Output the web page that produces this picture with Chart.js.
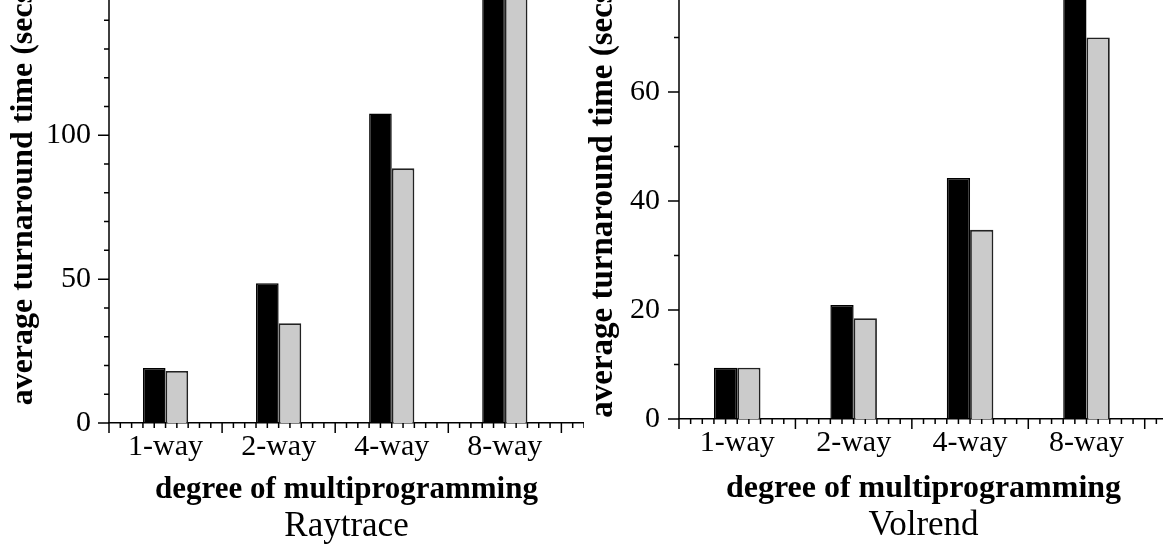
<!DOCTYPE html>
<html>
<head>
<meta charset="utf-8">
<script src="https://cdn.jsdelivr.net/npm/chart.js@4.4.0/dist/chart.umd.min.js"></script>
<style>
    html, body { margin: 0; padding: 0; background: #fff; }
    body { width: 1163px; height: 545px; overflow: hidden; position: relative; }
    canvas { position: absolute; }
    #raytraceChart { left: 0; top: -80px; }
    #volrendChart { left: 584px; top: -80px; }
</style>
</head>
<body>
<canvas id="raytraceChart" width="584" height="625"></canvas>
<canvas id="volrendChart" width="584" height="625"></canvas>
<script>
// degree of multiprogramming
const categories = ['1-way', '2-way', '4-way', '8-way'];

// Raytrace, average turnaround time (secs); 8-way bars run off the top of the figure
const raytraceBlack = [19.1, 48.6, 107.6, 180];
const raytraceGray = [18.1, 34.7, 88.5, 170];

// Volrend, average turnaround time (secs)
const volrendBlack = [9.4, 20.9, 44.2, 88];
const volrendGray = [9.4, 18.5, 34.7, 70];

const serif = "'Liberation Serif', 'Times New Roman', serif";

// y axis line up to the top edge, plus outward major/minor tick marks from the scales
const tickMarks = {
    id: 'tickMarks',
    afterDraw(chart, args, opts) {
        const { ctx, chartArea, scales: { x, y } } = chart;
        ctx.save();
        ctx.strokeStyle = '#000';
        ctx.lineWidth = 1.5;
        ctx.beginPath();
        ctx.moveTo(chartArea.left, chartArea.bottom);
        ctx.lineTo(chartArea.left, 0);
        const nx = Math.round((x.max - x.min) / opts.xStep);
        for (let i = 0; i <= nx; i++) {
            const px = x.getPixelForValue(x.min + i * opts.xStep);
            const len = i % opts.xMajorEvery === 0 ? 10 : 5;
            ctx.moveTo(px, chartArea.bottom);
            ctx.lineTo(px, chartArea.bottom + len);
        }
        const ny = Math.floor((y.max - y.min) / opts.yStep);
        for (let i = 0; i <= ny; i++) {
            const py = y.getPixelForValue(y.min + i * opts.yStep);
            const len = i % opts.yMajorEvery === 0 ? 11 : 5;
            ctx.moveTo(chartArea.left, py);
            ctx.lineTo(chartArea.left - len, py);
        }
        ctx.stroke();
        ctx.restore();
    }
};

function makeChart(id, caption, black, gray, cfg) {
    const ctx = document.getElementById(id).getContext('2d');
    const toPoints = values => values.map((v, i) => ({ x: i + 0.5, y: v }));
    return new Chart(ctx, {
        type: 'bar',
        data: {
            datasets: [{
                label: 'black',
                data: toPoints(black),
                backgroundColor: '#000000',
                borderColor: '#000000',
                borderWidth: 1.5,
                clip: false
            }, {
                label: 'gray',
                data: toPoints(gray),
                backgroundColor: '#cbcbcb',
                borderColor: '#222222',
                borderWidth: 1.8,
                clip: false
            }]
        },
        options: {
            responsive: false,
            animation: false,
            devicePixelRatio: 1,
            categoryPercentage: 0.4,
            barPercentage: 1.0,
            layout: { padding: { top: cfg.padTop, bottom: cfg.padBottom, left: 0, right: 0 } },
            plugins: {
                legend: { display: false },
                tooltip: { enabled: false },
                title: {
                    display: true,
                    position: 'bottom',
                    fullSize: false,
                    text: caption,
                    color: '#000',
                    padding: 0,
                    font: { family: serif, size: 35, weight: 'normal', lineHeight: 1 }
                },
                tickMarks: { xStep: 0.1, xMajorEvery: 10, yStep: cfg.yMinor, yMajorEvery: cfg.yMajor / cfg.yMinor }
            },
            scales: {
                x: {
                    type: 'linear',
                    min: 0,
                    max: 4.2,
                    offset: false,
                    grid: { display: false, drawTicks: false, offset: false },
                    border: { display: true, color: '#000', width: 1.5 },
                    afterBuildTicks: axis => { axis.ticks = categories.map((c, i) => ({ value: i + 0.5 })); },
                    afterFit: axis => { axis.height = cfg.xAxisHeight; },
                    ticks: {
                        autoSkip: false,
                        maxRotation: 0,
                        padding: 6,
                        color: '#000',
                        font: { family: serif, size: 30 },
                        callback: value => categories[Math.floor(value)]
                    },
                    title: {
                        display: true,
                        text: 'degree of multiprogramming',
                        color: '#000',
                        padding: { top: 0, bottom: 0 },
                        font: { family: serif, size: cfg.xTitleSize, weight: 'bold' }
                    }
                },
                y: {
                    min: 0,
                    max: cfg.yMax,
                    grid: { display: false, drawTicks: false },
                    border: { display: false },
                    afterFit: axis => { axis.width = cfg.axisWidth; },
                    ticks: {
                        stepSize: cfg.yMajor,
                        includeBounds: false,
                        padding: cfg.labelPad,
                        color: '#000',
                        font: { family: serif, size: 30 }
                    },
                    title: {
                        display: true,
                        text: 'average turnaround time (secs)',
                        color: '#000',
                        padding: { top: cfg.titlePad, bottom: 0 },
                        font: { family: serif, size: cfg.yTitleSize, weight: 'bold' }
                    }
                }
            }
        },
        plugins: [tickMarks]
    });
}

makeChart('raytraceChart', 'Raytrace', raytraceBlack, raytraceGray, {
    yMax: 160, yMajor: 50, yMinor: 10,
    padTop: 42.6, padBottom: 1, xAxisHeight: 86,
    axisWidth: 109, labelPad: 18, titlePad: 5,
    xTitleSize: 31, yTitleSize: 32
});

makeChart('volrendChart', 'Volrend', volrendBlack, volrendGray, {
    yMax: 80.9, yMajor: 20, yMinor: 10,
    padTop: 58, padBottom: 2, xAxisHeight: 89,
    axisWidth: 95, labelPad: 19, titlePad: 0,
    xTitleSize: 32, yTitleSize: 33
});
</script>
</body>
</html>
